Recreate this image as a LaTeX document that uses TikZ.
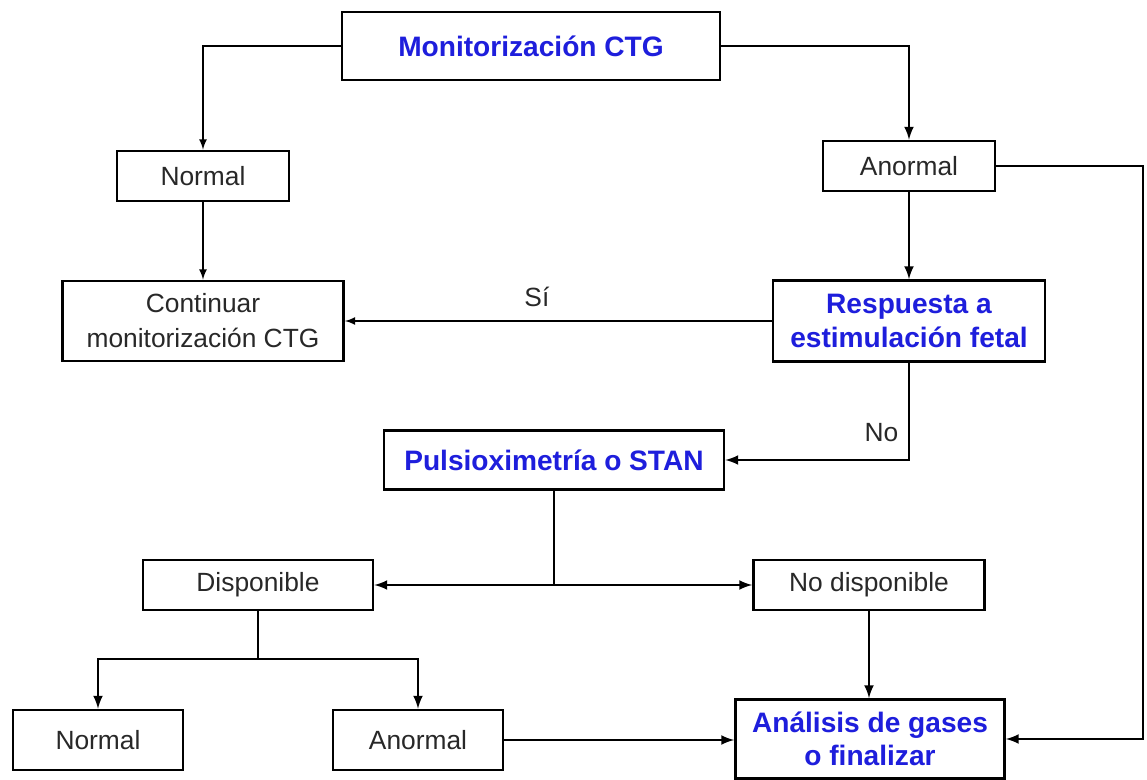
\documentclass[tikz,border=0pt]{standalone}
\usepackage{fontspec}
\setmainfont{Liberation Sans}
\usetikzlibrary{positioning}

\definecolor{titleblue}{RGB}{30,30,220}
\definecolor{textgray}{RGB}{40,40,40}

\tikzset{
  box/.style={draw=black,line width=1.6pt,fill=white,align=center,inner sep=0pt,
    text=textgray,font=\fontsize{15}{20}\selectfont},
  bluebox/.style={box,text=titleblue,font=\fontsize{16}{19}\selectfont\bfseries},
  thin/.style={line width=1pt,->},
  thick/.style={line width=1.5pt,->}
}

\begin{document}
\begin{tikzpicture}[x=0.02cm,y=-0.02cm,>=latex]
\useasboundingbox (0,0) rectangle (1147,780);

\node[bluebox,minimum width=7.56cm,minimum height=1.36cm] (mon) at (531,46) {Monitorización CTG};
\node[box,minimum width=3.44cm,minimum height=1cm] (norm) at (203,176) {Normal};
\node[box,minimum width=3.44cm,minimum height=1cm] (anor) at (909,166) {Anormal};
\node[box,minimum width=5.62cm,minimum height=1.6cm] (cont) at (203,321) {Continuar\\monitorización CTG};
\node[bluebox,minimum width=5.44cm,minimum height=1.62cm] (resp) at (909,321) {Respuesta a\\estimulación fetal};
\node[bluebox,minimum width=6.8cm,minimum height=1.18cm] (puls) at (554,460) {Pulsioximetría o STAN};
\node[box,minimum width=4.6cm,minimum height=1cm] (disp) at (258,585) {Disponible};
\node[box,minimum width=4.62cm,minimum height=1cm] (nodisp) at (869,585) {No disponible};
\node[box,minimum width=3.4cm,minimum height=1.2cm] (norm2) at (98,740) {Normal};
\node[box,minimum width=3.4cm,minimum height=1.2cm] (anor2) at (418,740) {Anormal};
\node[bluebox,minimum width=5.38cm,minimum height=1.58cm] (anal) at (870,739) {Análisis de gases\\o finalizar};

\coordinate (split) at (554,585);
\coordinate (fork) at (258,659);
\coordinate (rim) at (1143,0);

\draw[thin] (mon.west) -| (norm.north);
\draw[thick] (mon.east) -| (anor.north);
\draw[thin] (norm) -- (cont);
\draw[thick] (anor) -- (resp);
\draw[thin] (resp.west) -- node[pos=0.55,above=4pt,text=textgray,font=\fontsize{15}{20}\selectfont]{Sí} (cont.east);
\draw[thick] (resp.south) |- node[pos=0.36,left=2pt,text=textgray,font=\fontsize{15}{20}\selectfont]{No} (puls.east);

\draw[line width=1.5pt] (puls.south) -- (split);
\draw[thick] (split) -- (split -| disp.east);
\draw[thick] (split) -- (split -| nodisp.west);

\draw[line width=1.5pt] (disp.south) -- (fork);
\draw[thick] (fork) -| (norm2.north);
\draw[thick] (fork) -| (anor2.north);

\draw[thick] (nodisp.south) -- (nodisp.south |- anal.north);
\draw[thick] (anor2.east) -- (anor2.east -| anal.west);
\draw[thick] (anor.east) -- (anor.east -| rim) |- (anal.east);

\end{tikzpicture}
\end{document}
